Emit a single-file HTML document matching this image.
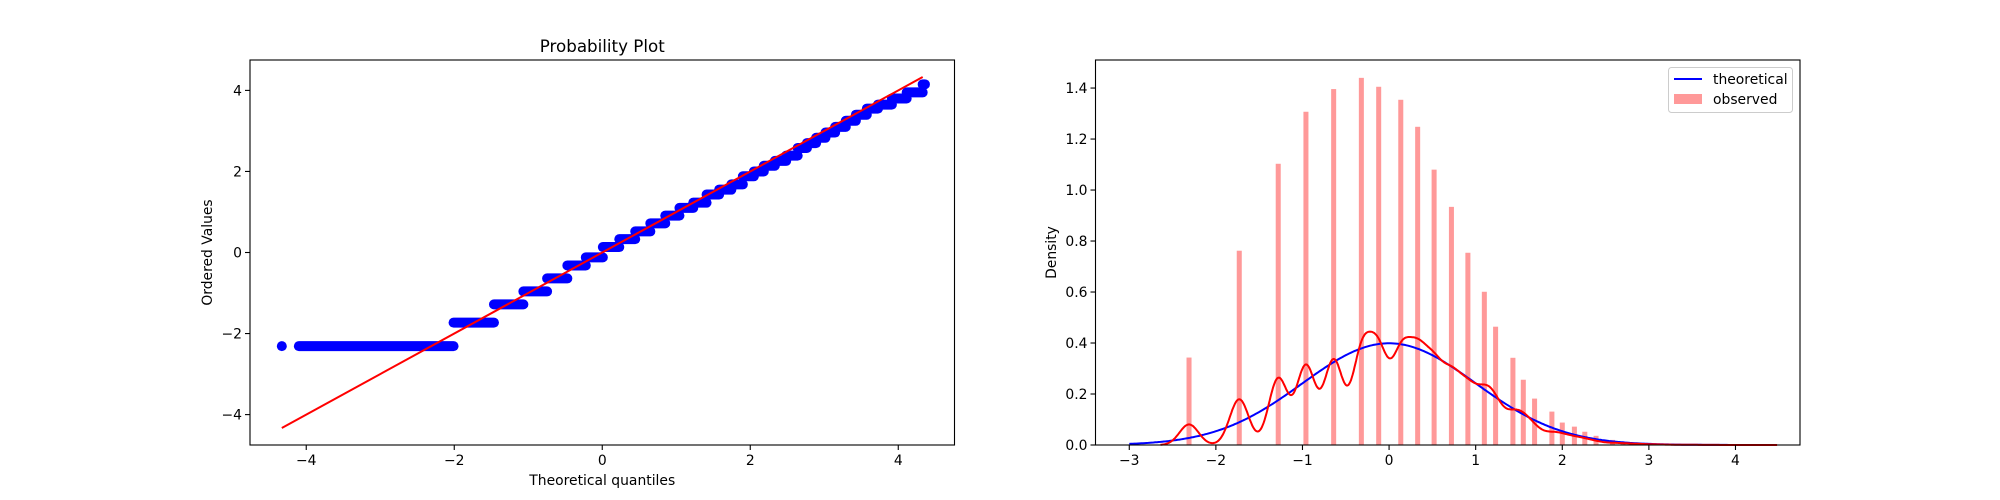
<!DOCTYPE html>
<html><head><meta charset="utf-8"><style>
html,body{margin:0;padding:0;background:#fff;}
svg{display:block;font-family:"DejaVu Sans","Liberation Sans",sans-serif;}
</style></head><body>
<svg id="fig" width="2000" height="500" viewBox="0 0 2000 500" xmlns="http://www.w3.org/2000/svg">
<rect width="2000" height="500" fill="#fff"/>
<g id="left"></g>
<g id="right"></g>
</svg>
<script>
// observed discrete levels and histogram densities
const levels = [-2.31,-1.73,-1.28,-0.96,-0.64,-0.32,-0.12,0.135,0.33,0.52,0.72,0.91,1.10,1.23,1.43,1.55,1.68,1.88,2.00,2.14,2.26,2.39,2.58,2.70,2.83,2.96,3.10,3.25,3.40,3.55,3.65,3.80,3.95,4.15];
const densities = [0.343,0.762,1.103,1.307,1.396,1.440,1.405,1.354,1.248,1.080,0.934,0.754,0.601,0.464,0.342,0.256,0.182,0.131,0.088,0.072,0.052,0.036,0.020,0.014,0.010,0.007,0.005,0.003,0.002,0.0012,0.0008,0.0004,0.0002,0.0001];
const leftXTicks = [-4,-2,0,2,4];
const leftYTicks = [-4,-2,0,2,4];
const rightXTicks = [-3,-2,-1,0,1,2,3,4];
const rightYTicks = [0.0,0.2,0.4,0.6,0.8,1.0,1.2,1.4];
const fitSlope = 1.0;
const fitIntercept = 0.0;

const NS='http://www.w3.org/2000/svg';
function el(tag, attrs, parent){const e=document.createElementNS(NS,tag);for(const k in attrs)e.setAttribute(k,attrs[k]);parent.appendChild(e);return e;}
function txt(s, attrs, parent){const e=el('text',attrs,parent);e.textContent=s;return e;}
function invNorm(p){
  const a=[-39.69683028665376,220.9460984245205,-275.9285104469687,138.357751867269,-30.66479806614716,2.506628277459239];
  const b=[-54.47609879822406,161.5858368580409,-155.6989798598866,66.80131188771972,-13.28068155288572];
  const c=[-0.007784894002430293,-0.3223964580411365,-2.400758277161838,-2.549732539343734,4.374664141464968,2.938163982698783];
  const d=[0.007784695709041462,0.3224671290700398,2.445134137142996,3.754408661907416];
  const pl=0.02425;let q,r;
  if(p<pl){q=Math.sqrt(-2*Math.log(p));return (((((c[0]*q+c[1])*q+c[2])*q+c[3])*q+c[4])*q+c[5])/((((d[0]*q+d[1])*q+d[2])*q+d[3])*q+1);}
  if(p>1-pl){q=Math.sqrt(-2*Math.log(1-p));return -(((((c[0]*q+c[1])*q+c[2])*q+c[3])*q+c[4])*q+c[5])/((((d[0]*q+d[1])*q+d[2])*q+d[3])*q+1);}
  q=p-0.5;r=q*q;return (((((a[0]*r+a[1])*r+a[2])*r+a[3])*r+a[4])*r+a[5])*q/(((((b[0]*r+b[1])*r+b[2])*r+b[3])*r+b[4])*r+1);
}

// ---------- LEFT ----------
const L={x0:250,x1:954.5,y0:60,y1:445,xmin:-4.76,xmax:4.76,ymin:-4.75,ymax:4.75};
const lx=v=>L.x0+(v-L.xmin)/(L.xmax-L.xmin)*(L.x1-L.x0);
const ly=v=>L.y1-(v-L.ymin)/(L.ymax-L.ymin)*(L.y1-L.y0);
const gl=document.getElementById('left');
const total=densities.reduce((s,v)=>s+v,0);
let cum=0;const qmax=4.33;
levels.forEach((lv,i)=>{
  const lo=cum;cum+=densities[i]/total;const hi=Math.min(cum,0.999999);
  let q0=lo<=0?-qmax:Math.max(-qmax,invNorm(lo));
  let q1=Math.min(qmax,invNorm(hi));
  if(i===levels.length-1){q1=qmax;q0=Math.max(q0,qmax-0.01);}
  if(i===0){
    const d=el('circle',{cx:lx(-qmax),cy:ly(lv),r:5,fill:'#0000ff'},gl);
    
    
    q0=-4.1;
  }
  const b=el('line',{x1:lx(q0),y1:ly(lv),x2:lx(q1),y2:ly(lv),stroke:'#0000ff','stroke-width':10,'stroke-linecap':'round'},gl);
  
  
});
const fl=el('line',{x1:lx(-qmax),y1:ly(fitIntercept+fitSlope*-qmax),x2:lx(qmax),y2:ly(fitIntercept+fitSlope*qmax),stroke:'#ff0000','stroke-width':2},gl);


const lf=el('rect',{x:L.x0,y:L.y0,width:L.x1-L.x0,height:L.y1-L.y0,fill:'none',stroke:'#000','stroke-width':1.1},gl);


leftXTicks.forEach(t=>{
  el('line',{x1:lx(t),y1:L.y1,x2:lx(t),y2:L.y1+5,stroke:'#000','stroke-width':1.1},gl);
  const e=txt(t<0?'\u2212'+(-t):String(t),{x:lx(t),y:L.y1+20,'font-size':13.9,'text-anchor':'middle'},gl);
  
  
});
leftYTicks.forEach(t=>{
  el('line',{x1:L.x0-5,y1:ly(t),x2:L.x0,y2:ly(t),stroke:'#000','stroke-width':1.1},gl);
  const e=txt(t<0?'\u2212'+(-t):String(t),{x:L.x0-8,y:ly(t)+5,'font-size':13.9,'text-anchor':'end'},gl);
  
  
});
let e;
e=txt('Probability Plot',{x:(L.x0+L.x1)/2,y:52,'font-size':16.7,'text-anchor':'middle'},gl);

e=txt('Theoretical quantiles',{x:(L.x0+L.x1)/2,y:485,'font-size':13.9,'text-anchor':'middle'},gl);

e=txt('Ordered Values',{x:0,y:0,'font-size':13.9,'text-anchor':'middle',transform:`translate(212,${(L.y0+L.y1)/2}) rotate(-90)`},gl);


// ---------- RIGHT ----------
const R={x0:1095.5,x1:1800,y0:60,y1:445,xmin:-3.39,xmax:4.745,ymin:0,ymax:1.51};
const rx=v=>R.x0+(v-R.xmin)/(R.xmax-R.xmin)*(R.x1-R.x0);
const ry=v=>R.y1-(v-R.ymin)/(R.ymax-R.ymin)*(R.y1-R.y0);
const gr=document.getElementById('right');
const barW=0.058;
levels.forEach((lv,i)=>{
  const r=el('rect',{x:rx(lv-barW/2),y:ry(densities[i]),width:rx(barW)-rx(0),height:ry(0)-ry(densities[i]),fill:'#ff0000','fill-opacity':0.4},gr);
  
  
});
// theoretical normal pdf
let pts=[];
for(let x=-3;x<=4.4;x+=0.02){pts.push(rx(x).toFixed(1)+','+ry(Math.exp(-x*x/2)/Math.sqrt(2*Math.PI)).toFixed(1));}
const tl=el('polyline',{points:pts.join(' '),fill:'none',stroke:'#0000ff','stroke-width':2},gr);


// observed KDE
const bw=0.11;pts=[];
const kx0=levels[0]-3*bw,kx1=levels[levels.length-1]+3*bw;
for(let x=kx0;x<=kx1;x+=0.01){
  let s=0;levels.forEach((lv,i)=>{const z=(x-lv)/bw;s+=densities[i]/total*Math.exp(-z*z/2);});
  s/=bw*Math.sqrt(2*Math.PI);
  pts.push(rx(x).toFixed(1)+','+ry(s).toFixed(1));
}
const kl=el('polyline',{points:pts.join(' '),fill:'none',stroke:'#ff0000','stroke-width':2},gr);


const rf=el('rect',{x:R.x0,y:R.y0,width:R.x1-R.x0,height:R.y1-R.y0,fill:'none',stroke:'#000','stroke-width':1.1},gr);


rightXTicks.forEach(t=>{
  el('line',{x1:rx(t),y1:R.y1,x2:rx(t),y2:R.y1+5,stroke:'#000','stroke-width':1.1},gr);
  const e=txt(t<0?'\u2212'+(-t):String(t),{x:rx(t),y:R.y1+20,'font-size':13.9,'text-anchor':'middle'},gr);
  
  
});
rightYTicks.forEach(t=>{
  el('line',{x1:R.x0-5,y1:ry(t),x2:R.x0,y2:ry(t),stroke:'#000','stroke-width':1.1},gr);
  const e=txt(t.toFixed(1),{x:R.x0-8,y:ry(t)+5,'font-size':13.9,'text-anchor':'end'},gr);
  
  
});
e=txt('Density',{x:0,y:0,'font-size':13.9,'text-anchor':'middle',transform:`translate(1056,${(R.y0+R.y1)/2}) rotate(-90)`},gr);

// legend
const lg=el('g',{},gr);


el('rect',{x:1668.5,y:67.5,width:124,height:45,rx:3,fill:'#fff','fill-opacity':0.8,stroke:'#cccccc','stroke-width':1},lg);
el('line',{x1:1674,y1:79,x2:1702,y2:79,stroke:'#0000ff','stroke-width':2},lg);
e=txt('theoretical',{x:1713,y:84,'font-size':13.9},lg);

el('rect',{x:1674,y:94,width:28,height:10,fill:'#ff0000','fill-opacity':0.4},lg);
e=txt('observed',{x:1713,y:104,'font-size':13.9},lg);

</script>
</body></html>
